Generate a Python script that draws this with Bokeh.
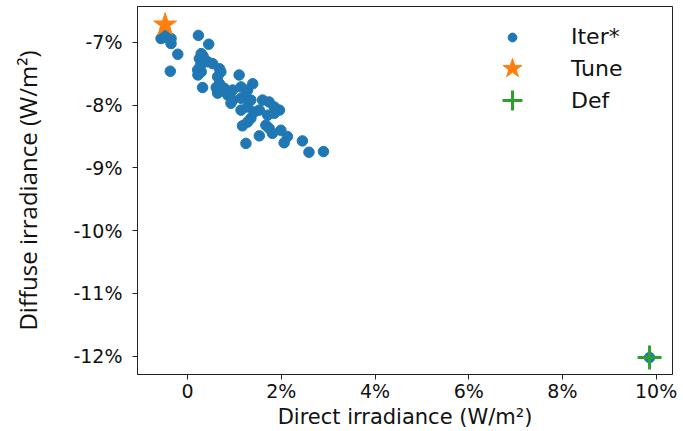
from bokeh.plotting import figure
from bokeh.models import FixedTicker, Range1d, Legend, LegendItem
from bokeh.embed import file_html
from bokeh.resources import INLINE

# Iter* points (percent)
iter_x = [-0.48, -0.567, -0.46, -0.354, -0.354, -0.21, -0.37, 0.23, 0.45, 0.29, 0.25, 0.29, 0.215,
          0.29, 0.43, 0.535, 0.68, 0.71, 0.64, 1.10, 0.32, 0.61, 0.68, 0.78, 0.96, 1.14,
          1.39, 1.28, 0.64, 0.855, 0.96, 1.14, 1.21, 1.35, 1.60, 1.74, 1.85, 1.96, 0.925,
          1.14, 1.28, 1.42, 1.53, 1.71, 1.85, 1.35, 1.17, 1.28, 1.67, 1.74, 1.99, 1.81,
          1.53, 2.13, 2.45, 2.06, 1.245, 2.59, 2.90, 0.27, 0.33, 0.22, 9.86]
iter_y = [-6.80, -6.94, -6.92, -6.94, -7.02, -7.19, -7.46, -6.89, -7.03, -7.18, -7.26, -7.34, -7.44,
          -7.47, -7.31, -7.34, -7.42, -7.47, -7.55, -7.52, -7.72, -7.72, -7.66, -7.73, -7.76, -7.71,
          -7.66, -7.76, -7.81, -7.84, -7.92, -7.89, -7.87, -7.92, -7.92, -7.95, -8.03, -8.08, -7.97,
          -8.08, -8.03, -8.11, -8.08, -8.16, -8.13, -8.21, -8.33, -8.27, -8.32, -8.37, -8.40, -8.45,
          -8.49, -8.50, -8.57, -8.60, -8.61, -8.75, -8.74, -7.38, -7.22, -7.52, -12.02]
tune_x = [-0.48]
tune_y = [-6.72]
def_x = [9.86]
def_y = [-12.02]

x_ticks = [0, 2, 4, 6, 8, 10]
x_tick_labels = ["0", "2%", "4%", "6%", "8%", "10%"]
y_ticks = [-12, -11, -10, -9, -8, -7]
y_tick_labels = ["-12%", "-11%", "-10%", "-9%", "-8%", "-7%"]

FONT = "DejaVu Sans"

p = figure(width=683, height=431, output_backend="svg", toolbar_location=None,
           x_range=Range1d(-1.07, 10.35), y_range=Range1d(-12.29, -6.43),
           min_border_left=137, min_border_right=11, min_border_top=6, min_border_bottom=54)

r_iter = p.scatter(iter_x, iter_y, marker="circle", size=10.5, color="#1f77b4")
r_tune = p.scatter(tune_x, tune_y, marker="star", size=24, color="#ff7f0e")
r_def = p.scatter(def_x, def_y, marker="cross", size=24, line_color="#2ca02c", line_width=3)

p.xgrid.visible = False
p.ygrid.visible = False
p.outline_line_color = "#222222"
p.outline_line_width = 1

p.xaxis.ticker = FixedTicker(ticks=x_ticks)
p.xaxis.major_label_overrides = {t: l for t, l in zip(x_ticks, x_tick_labels)}
p.yaxis.ticker = FixedTicker(ticks=y_ticks)
p.yaxis.major_label_overrides = {t: l for t, l in zip(y_ticks, y_tick_labels)}

for ax in (p.xaxis, p.yaxis):
    ax.minor_tick_line_color = None
    ax.major_tick_in = 0
    ax.major_tick_out = 5
    ax.major_tick_line_color = "#222222"
    ax.axis_line_color = "#222222"
    ax.major_label_text_font = FONT
    ax.major_label_text_font_size = "19px"
    ax.major_label_text_color = "#111111"
    ax.axis_label_text_font = FONT
    ax.axis_label_text_font_style = "normal"
    ax.axis_label_text_color = "#111111"

p.xaxis.axis_label = "Direct irradiance (W/m²)"
p.xaxis.axis_label_text_font_size = "21px"
p.xaxis.axis_label_standoff = 0
p.xaxis.major_label_standoff = 0
p.yaxis.axis_label = "Diffuse irradiance (W/m²)"
p.yaxis.axis_label_text_font = "Open Sans"
p.yaxis.axis_label_text_font_size = "24px"
p.yaxis.axis_label_standoff = 26
p.yaxis.major_label_standoff = 10

# Legend entries, each its own box so the marker scale can differ
legend_specs = [("Iter*", r_iter, 22, 325), ("Tune", r_tune, 50, 281), ("Def", r_def, 50, 249)]
for label, rend, gh, vy in legend_specs:
    lg = Legend(items=[LegendItem(label=label, renderers=[rend])], location=(350, vy))
    lg.border_line_alpha = 0
    lg.background_fill_alpha = 0
    lg.label_text_font = FONT
    lg.label_text_font_size = "22px"
    lg.label_text_color = "#111111"
    lg.glyph_width = 50
    lg.glyph_height = gh
    lg.label_height = gh
    lg.label_standoff = 34
    lg.padding = 0
    lg.margin = 0
    p.add_layout(lg)

open("out.html", "w").write(file_html(p, INLINE))
